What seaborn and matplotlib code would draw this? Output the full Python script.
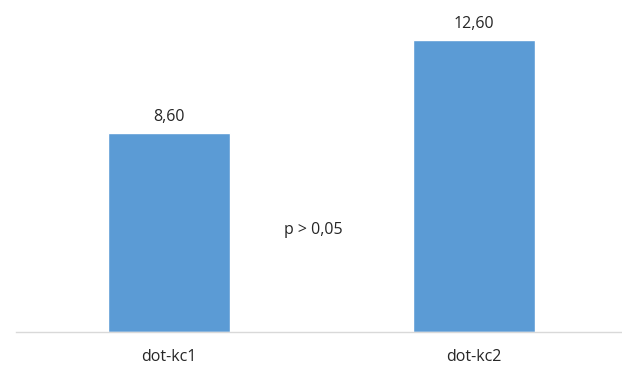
import pandas as pd
import seaborn as sns
import matplotlib.pyplot as plt

# Data
groups = ['dot-kc1', 'dot-kc2']
means = [8.60, 12.60]
value_labels = ['8,60', '12,60']
note = 'p > 0,05'

df = pd.DataFrame({'group': groups, 'mean': means})

sns.set_style('white')
plt.rcParams['font.family'] = ['Open Sans', 'DejaVu Sans']

fig = plt.figure(figsize=(6.22, 3.65), dpi=100)
ax = fig.add_axes([16 / 622, 33 / 365, 610 / 622, 324 / 365])

sns.barplot(data=df, x='group', y='mean', color='#5B9BD5', width=0.4,
            saturation=1, ax=ax)

ax.set_xlim(-0.5, 1.5)
ax.set_ylim(0, 14)
ax.set_xlabel('')
ax.set_ylabel('')
ax.set_yticks([])
ax.tick_params(axis='x', length=0, pad=12, labelsize=11.5, labelcolor='#262626')

for side in ['top', 'right', 'left']:
    ax.spines[side].set_visible(False)
ax.spines['bottom'].set_color('#D9D9D9')
ax.spines['bottom'].set_linewidth(1)

for i, (v, lab) in enumerate(zip(means, value_labels)):
    ax.annotate(lab, (i, v), xytext=(0, 6), textcoords='offset points',
                ha='center', va='bottom', fontsize=11.5, color='#262626')

ax.text(0.475, 4.4, note, ha='center', va='center', fontsize=11.5, color='#262626')

fig.savefig('out.png', dpi=100)
